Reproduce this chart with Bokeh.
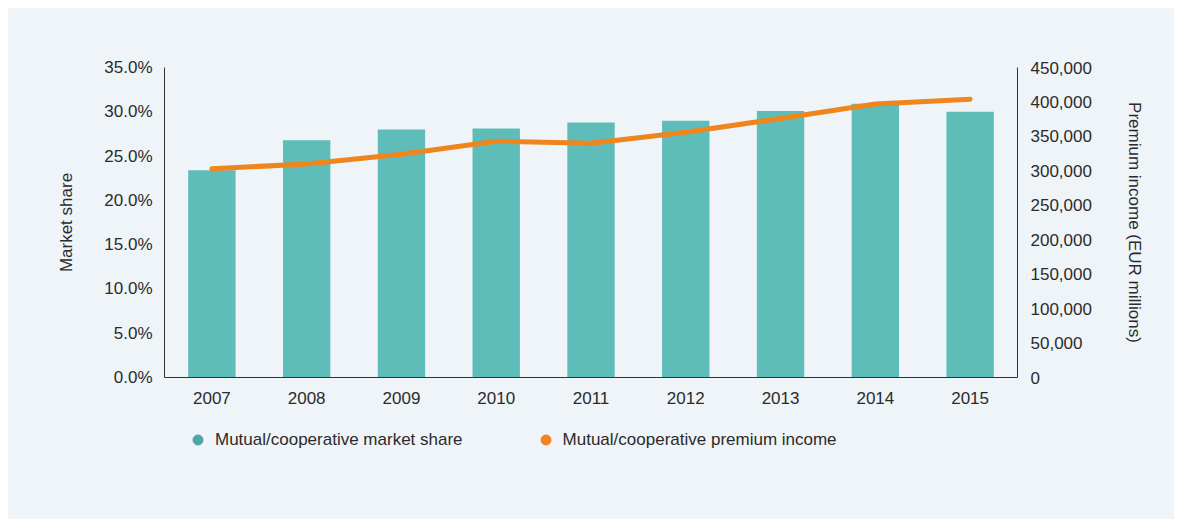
from bokeh.plotting import figure
from bokeh.layouts import column
from bokeh.models import (Range1d, LinearAxis, FixedTicker, NumeralTickFormatter,
                          Legend, LegendItem, ColumnDataSource)
from bokeh.embed import file_html
from bokeh.resources import INLINE

years = ["2007", "2008", "2009", "2010", "2011", "2012", "2013", "2014", "2015"]
market_share = [0.234, 0.268, 0.280, 0.281, 0.288, 0.290, 0.301, 0.309, 0.300]
premium_income = [303000, 310000, 324000, 343000, 340000, 356000, 376000, 397000, 404000]

left_ticks = [0.0, 0.05, 0.10, 0.15, 0.20, 0.25, 0.30, 0.35]
right_ticks = [0, 50000, 100000, 150000, 200000, 250000, 300000, 350000, 400000, 450000]

series_labels = ["Mutual/cooperative market share", "Mutual/cooperative premium income"]

BG = "#eff4f8"
TEXT = "#2b2b2b"
FONT = "Liberation Sans"

src = ColumnDataSource(dict(year=years, share=market_share, income=premium_income))

p = figure(width=1166, height=402, x_range=years, y_range=Range1d(0, 0.35),
           output_backend="svg", toolbar_location=None,
           background_fill_color=BG, border_fill_color=BG, outline_line_color=None,
           min_border_left=156, min_border_right=157, min_border_top=59, min_border_bottom=33)
p.extra_y_ranges = {"income": Range1d(0, 450000)}
p.grid.visible = False

p.vbar(x="year", top="share", width=0.5, source=src, color="#5ebdb9", line_color=None)
p.line(x="year", y="income", source=src, y_range_name="income",
       line_color="#ef861d", line_width=5, line_cap="round", line_join="round")

right = LinearAxis(y_range_name="income", axis_label="Premium income (EUR millions)")
p.add_layout(right, "right")

p.yaxis[0].axis_label = "Market share"
p.yaxis[0].ticker = FixedTicker(ticks=left_ticks)
p.yaxis[0].formatter = NumeralTickFormatter(format="0.0%")
right.ticker = FixedTicker(ticks=right_ticks)
right.formatter = NumeralTickFormatter(format="0,0")

for ax in [p.xaxis[0], p.yaxis[0], right]:
    ax.major_tick_line_color = None
    ax.minor_tick_line_color = None
    ax.major_tick_out = 0
    ax.major_tick_in = 0
    ax.axis_line_color = "#333333"
    ax.axis_line_width = 1
    ax.major_label_text_font = FONT
    ax.major_label_text_font_size = "17px"
    ax.major_label_text_color = TEXT
    ax.axis_label_text_font = FONT
    ax.axis_label_text_font_size = "17px"
    ax.axis_label_text_font_style = "normal"
    ax.axis_label_text_color = TEXT

p.xaxis[0].major_label_standoff = 14
p.yaxis[0].major_label_standoff = 12
p.yaxis[0].axis_label_standoff = 25
right.major_label_standoff = 13
right.axis_label_standoff = 30

# legend strip below the chart
lf = figure(width=1166, height=109, x_range=Range1d(0, 1), y_range=Range1d(0, 1),
            output_backend="svg", toolbar_location=None,
            x_axis_location=None, y_axis_location=None, min_border=0,
            background_fill_color=BG, border_fill_color=BG, outline_line_color=None)
lf.grid.visible = False
r1 = lf.scatter(x=[-5], y=[-5], marker="circle", size=10, color="#4da5aa")
r2 = lf.scatter(x=[-5], y=[-5], marker="circle", size=10, color="#f4821f")
legend = Legend(items=[LegendItem(label=series_labels[0], renderers=[r1]),
                       LegendItem(label=series_labels[1], renderers=[r2])],
                orientation="horizontal", location=(21, 67),
                background_fill_alpha=0, border_line_color=None,
                margin=0, padding=0, spacing=70,
                glyph_width=25, glyph_height=25, label_height=25, label_standoff=5,
                label_text_font=FONT, label_text_font_size="17px", label_text_color=TEXT)
lf.add_layout(legend, "center")

layout = column(p, lf, spacing=0, margin=(8, 8, 8, 8),
                styles={"background-color": BG})

open("out.html", "w").write(file_html(layout, INLINE))
